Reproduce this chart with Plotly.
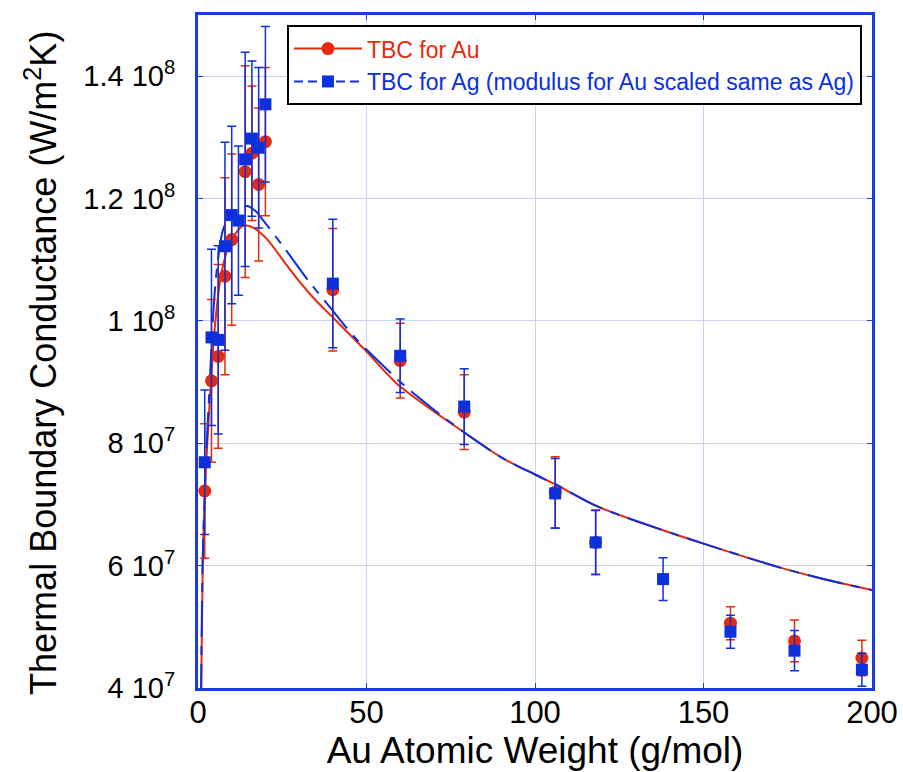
import plotly.graph_objects as go

# ---- data ----
au_x = [2, 4, 6, 8, 10, 14, 16, 18, 20, 40, 60, 79, 106, 118, 158, 177, 197]
au_y = [7.22e7, 9.02e7, 9.42e7, 1.073e8, 1.133e8, 1.244e8, 1.274e8, 1.223e8, 1.293e8,
        1.051e8, 9.35e7, 8.51e7, 7.2e7, 6.38e7, 5.06e7, 4.77e7, 4.49e7]
au_err = [1.1e7, 1.33e7, 1.5e7, 1.61e7, 1.4e7, 1.73e7, 1.1e7, 1.25e7, 1.21e7,
          1.0e7, 6.1e6, 6.1e6, 5.8e6, 5.3e6, 2.7e6, 3.4e6, 2.9e6]

ag_x = [2, 4, 6, 8, 10, 12, 14, 16, 18, 20, 40, 60, 79, 106, 118, 138, 158, 177, 197]
ag_y = [7.69e7, 9.73e7, 9.69e7, 1.122e8, 1.173e8, 1.164e8, 1.264e8, 1.298e8, 1.283e8, 1.354e8,
        1.061e8, 9.43e7, 8.6e7, 7.18e7, 6.38e7, 5.78e7, 4.92e7, 4.61e7, 4.3e7]
ag_err = [1.18e7, 1.44e7, 1.54e7, 1.7e7, 1.45e7, 1.22e7, 1.75e7, 1.27e7, 1.31e7, 1.27e7,
          1.05e7, 6.0e6, 6.2e6, 5.7e6, 5.2e6, 3.5e6, 2.7e6, 3.3e6, 2.7e6]

# model curves
au_fit_x = [0.9, 1.4, 2.2, 3.6, 5.0, 7.0, 10, 13.5, 16.5, 20.4, 25.8, 30.3, 34.7, 39.4,
            50, 59.1, 78.9, 90, 100, 106, 118, 130, 150, 172, 185, 200]
au_fit_y = [3.8e7, 6.0e7, 7.4e7, 8.8e7, 9.9e7, 1.08e8, 1.133e8, 1.156e8, 1.152e8, 1.134e8,
            1.095e8, 1.063e8, 1.035e8, 1.009e8, 9.5e7, 8.97e7, 8.18e7, 7.77e7, 7.49e7, 7.33e7,
            6.98e7, 6.73e7, 6.36e7, 5.98e7, 5.79e7, 5.6e7]

ag_fit_x = [0.9, 1.4, 2.4, 3.4, 4.4, 5.5, 7.5, 10, 14.5, 17, 19.4, 25.8, 32.7, 39.2,
            47, 55.5, 60, 73, 80, 90, 100, 106, 118, 130, 150, 172, 185, 200]
ag_fit_y = [3.8e7, 6.1e7, 7.75e7, 8.9e7, 1.0e8, 1.08e8, 1.15e8, 1.175e8, 1.188e8, 1.18e8,
            1.164e8, 1.118e8, 1.066e8, 1.022e8, 9.7e7, 9.24e7, 9.0e7, 8.42e7, 8.14e7,
            7.77e7, 7.49e7, 7.33e7, 6.98e7, 6.73e7, 6.36e7, 5.98e7, 5.79e7, 5.6e7]

y_ticks = [4e7, 6e7, 8e7, 1e8, 1.2e8, 1.4e8]
y_ticktext = ["4 10<sup>7</sup>", "6 10<sup>7</sup>", "8 10<sup>7</sup>", "1 10<sup>8</sup>",
              "1.2 10<sup>8</sup>", "1.4 10<sup>8</sup>"]
x_ticks = [0, 50, 100, 150, 200]

RED = "#e62a0c"
BLUE = "#0b30dc"
FRAME = "#1a3be0"
GRID = "#c9d1f4"
FONT = "Liberation Sans, Arial, Helvetica, sans-serif"

fig = go.Figure()

# model curves
fig.add_trace(go.Scatter(x=au_fit_x, y=au_fit_y, mode="lines",
                         line=dict(color=RED, width=2, shape="spline", smoothing=0.8),
                         showlegend=False, hoverinfo="skip"))
fig.add_trace(go.Scatter(x=ag_fit_x, y=ag_fit_y, mode="lines",
                         line=dict(color=BLUE, width=2, shape="spline", smoothing=0.8,
                                   dash="36px,9px,9px,9px"),
                         showlegend=False, hoverinfo="skip"))

# data points
fig.add_trace(go.Scatter(x=au_x, y=au_y, mode="markers",
                         marker=dict(symbol="circle", size=13, color=RED),
                         error_y=dict(type="data", array=au_err, color=RED, thickness=1.5, width=4.5),
                         showlegend=False))
fig.add_trace(go.Scatter(x=ag_x, y=ag_y, mode="markers",
                         marker=dict(symbol="square", size=12, color=BLUE),
                         error_y=dict(type="data", array=ag_err, color=BLUE, thickness=1.5, width=4.5),
                         showlegend=False))

# legend entries
fig.add_trace(go.Scatter(x=[None], y=[None], mode="lines+markers",
                         name='<span style="color:%s">TBC for Au</span>' % RED,
                         line=dict(color=RED, width=2),
                         marker=dict(symbol="circle", size=13, color=RED)))
fig.add_trace(go.Scatter(x=[None], y=[None], mode="lines+markers",
                         name='<span style="color:%s">TBC for Ag (modulus for Au scaled same as Ag)</span>' % BLUE,
                         line=dict(color=BLUE, width=2, dash="9px,5px"),
                         marker=dict(symbol="square", size=12, color=BLUE)))

fig.update_layout(
    width=903, height=772,
    margin=dict(l=198, r=31, t=15, b=84, autoexpand=False),
    paper_bgcolor="white", plot_bgcolor="white",
    font=dict(family=FONT, color="black"),
    legend=dict(x=0.132, y=0.985, xanchor="left", yanchor="top",
                bgcolor="white", bordercolor="black", borderwidth=2,
                font=dict(family=FONT, size=23), itemwidth=68,
                tracegroupgap=0),
    xaxis=dict(range=[0, 200], tickvals=x_ticks, showgrid=True, gridcolor=GRID, gridwidth=1,
               zeroline=False, showline=True, linecolor=FRAME, linewidth=3, mirror="ticks",
               ticks="inside", ticklen=5, tickcolor=FRAME, ticklabelstandoff=-5,
               tickfont=dict(family=FONT, size=31),
               title=dict(text="Au Atomic Weight (g/mol)", font=dict(family=FONT, size=37), standoff=8)),
    yaxis=dict(range=[4e7, 1.5e8], tickvals=y_ticks, ticktext=y_ticktext,
               showgrid=True, gridcolor=GRID, gridwidth=1,
               zeroline=False, showline=True, linecolor=FRAME, linewidth=3, mirror="ticks",
               ticks="inside", ticklen=5, tickcolor=FRAME,
               tickfont=dict(family=FONT, size=29), ticklabelstandoff=14),
    annotations=[dict(text="Thermal Boundary Conductance (W/m<sup>2</sup>K)",
                      xref="paper", yref="paper", x=-0.233, y=0.483,
                      xanchor="center", yanchor="middle", textangle=-90, showarrow=False,
                      font=dict(family=FONT, size=36, color="black"))],
)

fig.write_html("out.html")
